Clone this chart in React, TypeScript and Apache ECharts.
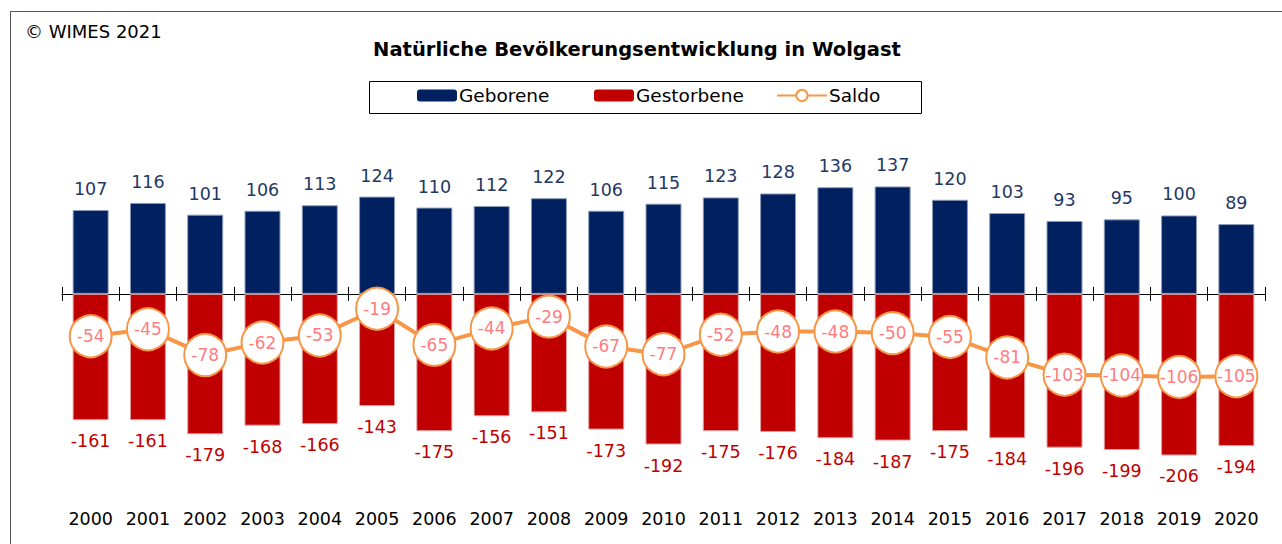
import React, { useEffect, useRef } from "react";
import * as echarts from "echarts";

const years = ["2000","2001","2002","2003","2004","2005","2006","2007","2008","2009","2010","2011","2012","2013","2014","2015","2016","2017","2018","2019","2020"];
const geborene = [107,116,101,106,113,124,110,112,122,106,115,123,128,136,137,120,103,93,95,100,89];
const gestorbene = [-161,-161,-179,-168,-166,-143,-175,-156,-151,-173,-192,-175,-176,-184,-187,-175,-184,-196,-199,-206,-194];
const saldo = [-54,-45,-78,-62,-53,-19,-65,-44,-29,-67,-77,-52,-48,-48,-50,-55,-81,-103,-104,-106,-105];

const FONT = "DejaVu Sans";

export default function App() {
  const ref = useRef<HTMLDivElement>(null);
  useEffect(() => {
    if (!ref.current) return;
    const chart = echarts.init(ref.current, null, { renderer: "svg" });
    const gridPos = { left: 62, right: 17, top: 137, bottom: 54 };
    const legendText = { fontFamily: FONT, fontSize: 18.5, color: "#000", padding: [0, 0, 0, -3] };
    chart.setOption({
      animation: false,
      backgroundColor: "#fff",
      graphic: [
        { type: "rect", shape: { x: 10.5, y: 11.5, width: 1400, height: 700 }, style: { fill: "none", stroke: "#555", lineWidth: 1 }, silent: true, z: -1 },
        { type: "text", left: 25, top: 22, style: { text: "© WIMES 2021", fontFamily: FONT, fontSize: 18, fill: "#000" } },
        { type: "text", x: 637, y: 49, style: { text: "Natürliche Bevölkerungsentwicklung in Wolgast", fontFamily: FONT, fontWeight: "bold", fontSize: 19.5, fill: "#000", textAlign: "center", textVerticalAlign: "middle" } },
        { type: "rect", shape: { x: 369.5, y: 81.5, width: 552, height: 32 }, style: { fill: "none", stroke: "#000", lineWidth: 1 }, silent: true },
      ],
      legend: [
        { data: ["Geborene"], left: 417, top: 86, padding: 0, itemWidth: 40, itemHeight: 12, itemStyle: { borderWidth: 0 }, textStyle: legendText },
        { data: ["Gestorbene"], left: 594, top: 86, padding: 0, itemWidth: 40, itemHeight: 12, itemStyle: { borderWidth: 0 }, textStyle: legendText },
        { data: ["Saldo"], left: 776, top: 86, padding: 0, itemWidth: 50, itemHeight: 14, textStyle: legendText },
      ],
      grid: [gridPos, gridPos, gridPos],
      xAxis: [
        { type: "category", data: years, gridIndex: 0, position: "bottom", axisLine: { onZero: true, lineStyle: { color: "#000", width: 1 } }, axisTick: { show: true, length: 7, interval: 0, lineStyle: { color: "#000" } }, axisLabel: { show: false } },
        { type: "category", data: years, gridIndex: 2, position: "top", axisLine: { onZero: true, lineStyle: { color: "#000", width: 1 } }, axisTick: { show: true, length: 7, interval: 0, lineStyle: { color: "#000" } }, axisLabel: { show: false } },
        { type: "category", data: years, gridIndex: 1, position: "bottom", axisLine: { show: false, onZero: false }, axisTick: { show: false }, axisLabel: { show: true, interval: 0, margin: 20, fontFamily: FONT, fontSize: 17.5, color: "#000" } },
      ],
      yAxis: [
        { type: "value", gridIndex: 0, min: -250, max: 200, show: false, splitLine: { show: false } },
        { type: "value", gridIndex: 1, min: -250, max: 200, show: false, splitLine: { show: false } },
        { type: "value", gridIndex: 2, min: -250, max: 200, show: false, splitLine: { show: false } },
      ],
      series: [
        {
          name: "Geborene", type: "bar", stack: "t", xAxisIndex: 0, yAxisIndex: 0, data: geborene, barWidth: 36,
          itemStyle: { color: "#002060", borderColor: "#8e9cb8", borderWidth: 1 },
          label: { show: true, position: "top", distance: 12, fontFamily: FONT, fontSize: 17.5, color: "#1F3864" },
        },
        {
          name: "Gestorbene", type: "bar", stack: "t", xAxisIndex: 0, yAxisIndex: 0, data: gestorbene, barWidth: 36,
          itemStyle: { color: "#C00000", borderColor: "#e0a0a0", borderWidth: 1 },
          label: { show: true, position: "bottom", distance: 12, fontFamily: FONT, fontSize: 17.5, color: "#C00000" },
        },
        {
          name: "Saldo", type: "line", xAxisIndex: 0, yAxisIndex: 0, data: saldo, z: 5,
          symbol: "circle", symbolSize: 42, showSymbol: true, showAllSymbol: true,
          lineStyle: { color: "#F79646", width: 4 },
          itemStyle: { color: "#fff", borderColor: "#F79646", borderWidth: 2 },
          label: { show: true, position: "inside", fontFamily: FONT, fontSize: 17, color: "#FF7C80" },
        },
      ],
    });
    return () => chart.dispose();
  }, []);
  return <div ref={ref} style={{ position: "fixed", left: 0, top: 0, width: 1282, height: 544 }} />;
}
